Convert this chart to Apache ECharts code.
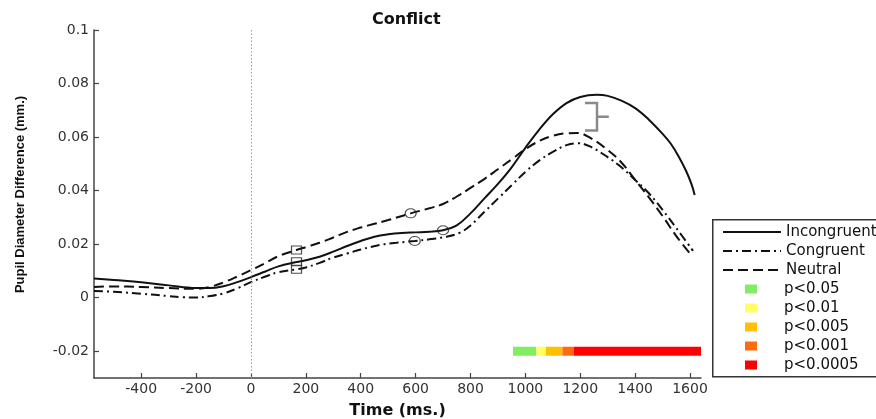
<!DOCTYPE html>
<html>
<head>
<meta charset="utf-8">
<script src="https://cdn.jsdelivr.net/npm/echarts@6/dist/echarts.min.js"></script>
<style>html,body{margin:0;padding:0;background:#fff}#c{width:876px;height:419px}</style>
</head>
<body>
<div id="c"></div>
<script>
// ---- data ----
const incTime = [-572,-500,-400,-300,-200,-150,-100,-50,0,50,100,166,200,250,300,350,400,450,500,550,600,650,700,750,800,850,900,950,1000,1050,1100,1150,1200,1260,1300,1350,1400,1450,1500,1530,1560,1585,1605,1617];
const incVal  = [0.0072,0.0066,0.0058,0.0046,0.0036,0.0036,0.0043,0.0058,0.0077,0.0097,0.0117,0.0133,0.0140,0.0153,0.0172,0.0193,0.0212,0.0228,0.0237,0.0242,0.0244,0.0246,0.0252,0.0270,0.0315,0.0370,0.0425,0.0487,0.0560,0.0627,0.0685,0.0727,0.0750,0.0758,0.0754,0.0736,0.0708,0.0665,0.0612,0.0575,0.0525,0.0475,0.0425,0.0384];

const neuTime = [-572,-500,-400,-300,-200,-150,-100,-50,0,50,100,166,200,250,300,350,400,450,500,582,650,700,750,800,850,900,950,1000,1050,1100,1150,1190,1235,1300,1350,1400,1450,1500,1550,1608];
const neuVal  = [0.0040,0.0042,0.0040,0.0036,0.0033,0.0040,0.0057,0.0079,0.0103,0.0128,0.0155,0.0178,0.0189,0.0205,0.0225,0.0246,0.0262,0.0276,0.0290,0.0315,0.0334,0.0350,0.0378,0.0410,0.0443,0.0480,0.0517,0.0555,0.0585,0.0605,0.0614,0.0615,0.0598,0.0552,0.0505,0.0440,0.0375,0.0305,0.0230,0.0155];

const conTime = [-572,-500,-400,-300,-250,-200,-150,-100,-50,0,50,100,166,200,250,300,350,400,470,530,597,650,713,760,800,850,900,950,1000,1050,1100,1150,1190,1235,1300,1350,1400,1450,1500,1550,1611];
const conVal  = [0.0025,0.0022,0.0015,0.0006,0.0002,0.0001,0.0006,0.0016,0.0035,0.0058,0.0078,0.0095,0.0106,0.0113,0.0130,0.0150,0.0165,0.0180,0.0197,0.0205,0.0212,0.0218,0.0228,0.0242,0.0270,0.0320,0.0370,0.0420,0.0470,0.0512,0.0545,0.0570,0.0577,0.0565,0.0525,0.0487,0.0440,0.0390,0.0328,0.0260,0.0175];

// marker points (squares and circles)
const squareTime = [166, 166, 166];
const squareVal  = [0.0178, 0.0134, 0.0106];
const circleTime = [582, 597, 700];
const circleVal  = [0.0315, 0.0212, 0.0252];

// significance bar
const sigNames  = ['p<0.05','p<0.01','p<0.005','p<0.001','p<0.0005'];
const sigStart  = [955, 1040, 1075, 1135, 1177];
const sigEnd    = [1040, 1075, 1135, 1177, 1640];
const sigLevel  = -0.02;
const sigColors = ['#80ee5e','#ffff66','#ffc000','#ff6a10','#ff0000'];

// bracket annotation
const bracketTime = [1217, 1261, 1261, 1304, 1261, 1261, 1217];
const bracketVal  = [0.0727, 0.0727, 0.0676, 0.0676, 0.0676, 0.0625, 0.0625];

// axes
const xTicks = [-400,-200,0,200,400,600,800,1000,1200,1400,1600];
const yTicks = [-0.02,0,0.02,0.04,0.06,0.08,0.1];
const xMin = -572, xMax = 1640, yMin = -0.03, yMax = 0.1;

const zip = (a, b) => a.map((v, i) => [v, b[i]]);

const chart = echarts.init(document.getElementById('c'), null, {renderer: 'canvas'});

const lineSeries = [
  {name: 'Incongruent', t: incTime, v: incVal, type: 'solid', w: 2},
  {name: 'Congruent', t: conTime, v: conVal, type: [9, 4, 2, 4], w: 2},
  {name: 'Neutral', t: neuTime, v: neuVal, type: [10, 5], w: 2}
].map(s => ({
  name: s.name, type: 'line', data: zip(s.t, s.v), smooth: 0.4,
  symbol: 'none', showSymbol: false,
  lineStyle: {color: '#111', width: s.w, type: s.type},
  itemStyle: {color: '#111'}, z: 3, silent: true
}));

const sigSeries = sigNames.map((n, i) => ({
  name: n, type: 'custom',
  data: [[sigStart[i], sigEnd[i], sigLevel]],
  itemStyle: {color: sigColors[i]},
  renderItem: function (params, api) {
    const a = api.coord([api.value(0), api.value(2)]);
    const b = api.coord([api.value(1), api.value(2)]);
    return {type: 'rect', shape: {x: a[0], y: a[1] - 4.5, width: b[0] - a[0], height: 9},
            style: {fill: sigColors[i]}};
  },
  z: 2, silent: true
}));

const option = {
  animation: false,
  backgroundColor: '#fff',
  title: {
    text: 'Conflict', left: 367, top: 7,
    textStyle: {fontFamily: 'DejaVu Sans', fontWeight: 'bold', fontSize: 16, color: '#111'}
  },
  grid: {left: 94, right: 175, top: 30, bottom: 41, containLabel: false, outerBoundsMode: 'none'},
  xAxis: {
    type: 'value', min: xMin, max: xMax,
    name: 'Time (ms.)', nameLocation: 'middle', nameGap: 25,
    nameTextStyle: {fontFamily: 'DejaVu Sans', fontWeight: 'bold', fontSize: 16, color: '#111'},
    axisLine: {show: true, onZero: false, lineStyle: {color: '#444', width: 1.5}},
    axisTick: {show: true, inside: true, length: 5, lineStyle: {color: '#444', width: 1.2}, customValues: xTicks},
    axisLabel: {customValues: xTicks, margin: 4, fontFamily: 'DejaVu Sans', fontSize: 14, color: '#333',
                formatter: v => String(v)},
    splitLine: {show: false}
  },
  yAxis: {
    type: 'value', min: yMin, max: yMax,
    name: 'Pupil Diameter Difference (mm.)', nameLocation: 'middle', nameGap: 67, nameRotate: 90,
    nameTextStyle: {fontFamily: '"Liberation Sans", Arial, sans-serif', fontWeight: 'bold', fontSize: 13, color: '#111', padding: [0, 0, 0, 19]},
    axisLine: {show: true, onZero: false, lineStyle: {color: '#444', width: 1.5}},
    axisTick: {show: true, inside: true, length: 5, lineStyle: {color: '#444', width: 1.2}, customValues: yTicks},
    axisLabel: {customValues: yTicks, margin: 5, fontFamily: 'DejaVu Sans', fontSize: 14, color: '#333',
                formatter: v => String(+v.toFixed(4))},
    splitLine: {show: false}
  },
  legend: [
    {
      orient: 'vertical', left: 722, top: 224.5, padding: 0,
      itemWidth: 58, itemHeight: 15, itemGap: 4,
      data: ['Incongruent', 'Congruent', 'Neutral'],
      itemStyle: {color: 'rgba(0,0,0,0)', borderWidth: 0, borderColor: 'rgba(0,0,0,0)'},
      textStyle: {fontFamily: 'DejaVu Sans', fontSize: 15, color: '#111'},
      selectedMode: false
    },
    {
      orient: 'vertical', left: 745, top: 281.5, padding: 0,
      itemWidth: 12, itemHeight: 9, itemGap: 4, icon: 'rect',
      data: sigNames,
      textStyle: {fontFamily: 'DejaVu Sans', fontSize: 15, color: '#111', padding: [0, 0, 0, 22]},
      selectedMode: false
    }
  ],
  graphic: [{
    type: 'rect', left: 712, top: 219, z: 0,
    shape: {width: 200, height: 157},
    style: {fill: '#fff', stroke: '#333', lineWidth: 1.5}
  }],
  series: [
    ...lineSeries,
    {
      name: 'zero', type: 'line', data: [], silent: true,
      markLine: {
        silent: true, symbol: 'none', label: {show: false},
        lineStyle: {color: '#999', type: [1.5, 2], width: 1},
        data: [{xAxis: 0}]
      }
    },
    {
      name: 'squares', type: 'scatter', data: zip(squareTime, squareVal),
      symbol: 'rect', symbolSize: [10, 8],
      itemStyle: {color: 'rgba(255,255,255,0)', borderColor: '#222', borderWidth: 1.1}, z: 4, silent: true
    },
    {
      name: 'circles', type: 'scatter', data: zip(circleTime, circleVal),
      symbol: 'circle', symbolSize: [11, 9],
      itemStyle: {color: 'rgba(255,255,255,0)', borderColor: '#222', borderWidth: 1.1}, z: 4, silent: true
    },
    {
      name: 'bracket', type: 'line', data: zip(bracketTime, bracketVal),
      symbol: 'none', smooth: false,
      lineStyle: {color: '#8a8a8a', width: 2.5, join: 'miter'}, z: 3, silent: true
    },
    ...sigSeries
  ]
};
chart.setOption(option);
</script>
</body>
</html>
